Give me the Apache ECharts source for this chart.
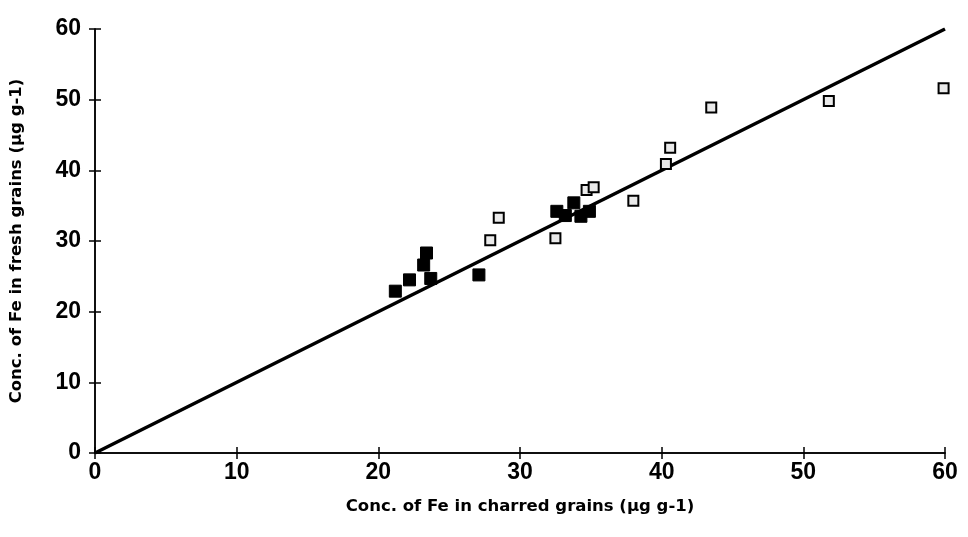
<!DOCTYPE html>
<html>
<head>
<meta charset="utf-8">
<script src="https://cdn.jsdelivr.net/npm/echarts@6/dist/echarts.min.js"></script>
<style>
  html, body { margin: 0; padding: 0; background: #fff; }
  #chart { width: 968px; height: 537px; }
</style>
</head>
<body>
<div id="chart"></div>
<script>
// charred (x) vs fresh (y) Fe concentration, ug/g
const filledPoints = [
  [21.2, 22.9], [22.2, 24.5], [23.2, 26.6], [23.4, 28.3], [23.7, 24.7],
  [27.1, 25.2], [32.6, 34.2], [33.2, 33.6], [33.8, 35.4], [34.3, 33.5],
  [34.9, 34.2]
];
const openPoints = [
  [27.9, 30.1], [28.5, 33.3], [32.5, 30.4], [34.7, 37.2], [35.2, 37.6],
  [38.0, 35.7], [40.3, 40.9], [40.6, 43.2], [43.5, 48.9], [51.8, 49.8],
  [59.9, 51.6]
];
const lineOneToOne = [[0, 0], [60, 60]];

const chart = echarts.init(document.getElementById('chart'));

const tickFont = { fontFamily: 'Liberation Sans', fontWeight: 'bold', fontSize: 23, color: '#000' };
const titleFont = { fontFamily: 'DejaVu Sans', fontWeight: 'bold', fontSize: 16.5, color: '#000' };
const tickStyle = { color: '#000', width: 1.5 };

const axisBase = {
  type: 'value',
  min: 0,
  max: 60,
  interval: 10,
  splitLine: { show: false },
  axisLine: { show: true, onZero: false, lineStyle: { color: '#000', width: 1.5 } }
};

const option = {
  backgroundColor: '#fff',
  animation: false,
  grid: { left: 94, right: 23, top: 29, bottom: 84 },
  xAxis: [
    Object.assign({}, axisBase, {
      name: 'Conc. of Fe in charred grains (µg g-1)',
      nameLocation: 'middle',
      nameGap: 45,
      nameTextStyle: titleFont,
      axisTick: { show: true, length: 6, lineStyle: tickStyle },
      axisLabel: Object.assign({ margin: 8 }, tickFont)
    }),
    Object.assign({}, axisBase, {
      position: 'bottom',
      axisTick: { show: true, inside: true, length: 6, lineStyle: tickStyle },
      axisLabel: { show: false }
    })
  ],
  yAxis: [
    Object.assign({}, axisBase, {
      name: 'Conc. of Fe in fresh grains (µg g-1)',
      nameLocation: 'middle',
      nameGap: 70,
      nameTextStyle: titleFont,
      axisTick: { show: true, length: 6, lineStyle: tickStyle },
      axisLabel: Object.assign({ margin: 14 }, tickFont)
    }),
    Object.assign({}, axisBase, {
      position: 'left',
      axisTick: { show: true, inside: true, length: 6, lineStyle: tickStyle },
      axisLabel: { show: false }
    })
  ],
  series: [
    {
      type: 'line',
      data: lineOneToOne,
      showSymbol: false,
      symbol: 'none',
      lineStyle: { color: '#000', width: 3.5 },
      z: 3
    },
    {
      type: 'scatter',
      data: filledPoints,
      symbol: 'rect',
      symbolSize: 12,
      itemStyle: { color: '#000', borderColor: '#000', borderWidth: 1, opacity: 1 },
      z: 4
    },
    {
      type: 'scatter',
      data: openPoints,
      symbol: 'rect',
      symbolSize: 10,
      itemStyle: { color: '#eaeaea', borderColor: '#000', borderWidth: 2, opacity: 1 },
      z: 4
    }
  ]
};

chart.setOption(option);
</script>
</body>
</html>
